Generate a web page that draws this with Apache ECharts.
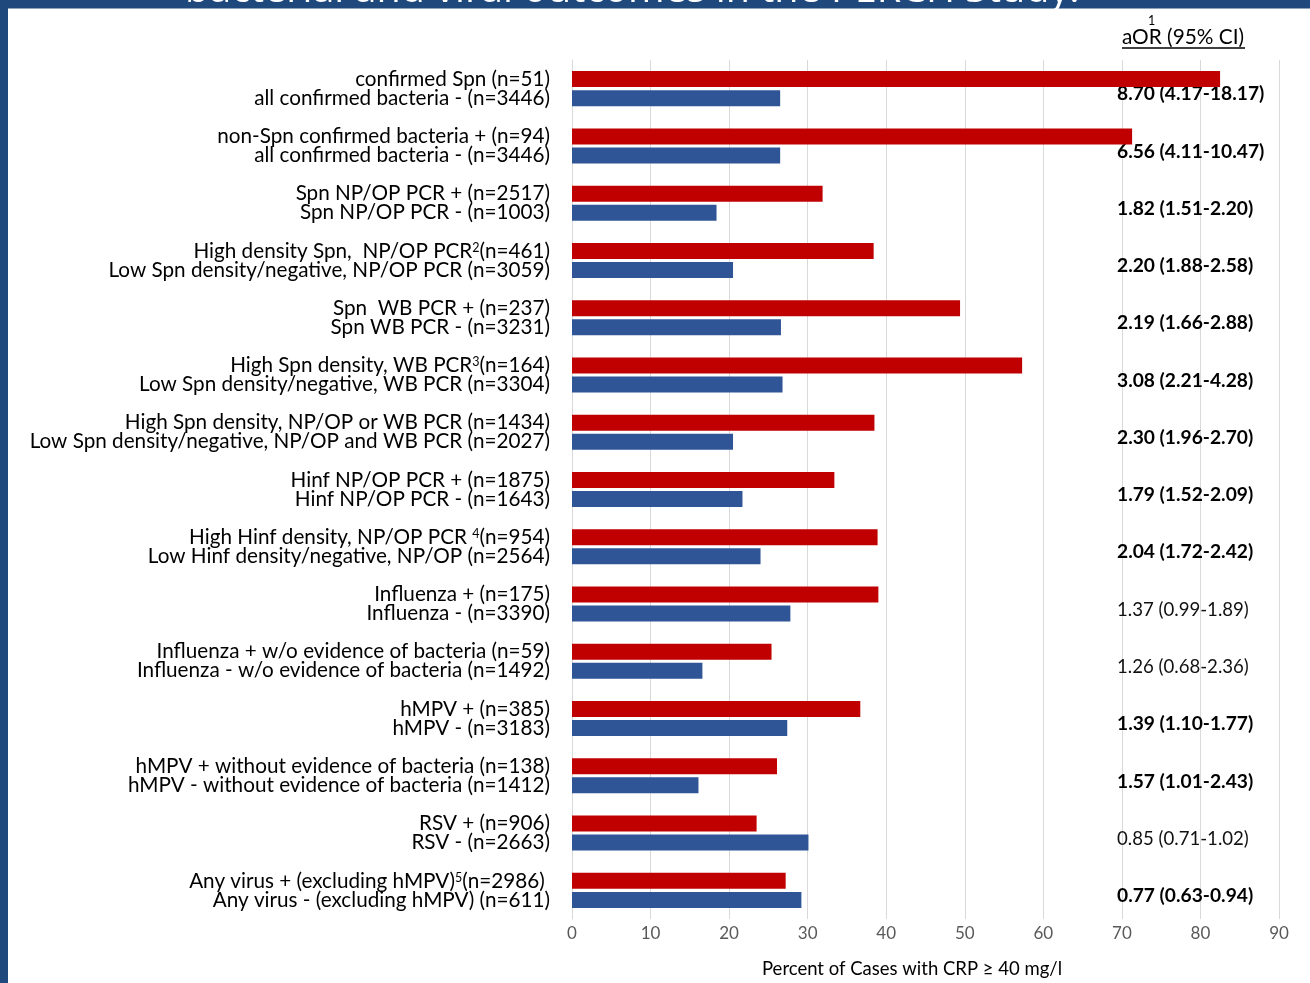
<!DOCTYPE html>
<html>
<head>
<meta charset="utf-8">
<script src="https://cdn.jsdelivr.net/npm/echarts@6/dist/echarts.min.js"></script>
<style>
html,body{margin:0;padding:0;background:#fff;}
#c{width:1310px;height:983px;}
</style>
</head>
<body>
<div id="c"></div>
<script>
// ---- data ----
const posLabels = [
  'confirmed Spn (n=51)',
  'non-Spn confirmed bacteria + (n=94)',
  'Spn NP/OP PCR + (n=2517)',
  'High density Spn,  NP/OP PCR{s|2}(n=461)',
  'Spn  WB PCR + (n=237)',
  'High Spn density, WB PCR{s|3}(n=164)',
  'High Spn density, NP/OP or WB PCR (n=1434)',
  'Hinf NP/OP PCR + (n=1875)',
  'High Hinf density, NP/OP PCR {s|4}(n=954)',
  'Influenza + (n=175)',
  'Influenza + w/o evidence of bacteria (n=59)',
  'hMPV + (n=385)',
  'hMPV + without evidence of bacteria (n=138)',
  'RSV + (n=906)',
  'Any virus + (excluding hMPV){s|5}(n=2986) '
];
const negLabels = [
  'all confirmed bacteria - (n=3446)',
  'all confirmed bacteria - (n=3446)',
  'Spn NP/OP PCR - (n=1003)',
  'Low Spn density/negative, NP/OP PCR (n=3059)',
  'Spn WB PCR - (n=3231)',
  'Low Spn density/negative, WB PCR (n=3304)',
  'Low Spn density/negative, NP/OP and WB PCR (n=2027)',
  'Hinf NP/OP PCR - (n=1643)',
  'Low Hinf density/negative, NP/OP (n=2564)',
  'Influenza - (n=3390)',
  'Influenza - w/o evidence of bacteria (n=1492)',
  'hMPV - (n=3183)',
  'hMPV - without evidence of bacteria (n=1412)',
  'RSV - (n=2663)',
  'Any virus - (excluding hMPV) (n=611)'
];
const positiveValues = [82.5, 71.3, 31.9, 38.4, 49.4, 57.3, 38.5, 33.4, 38.9, 39.0, 25.4, 36.7, 26.1, 23.5, 27.2];
const negativeValues = [26.5, 26.5, 18.4, 20.5, 26.6, 26.8, 20.5, 21.7, 24.0, 27.8, 16.6, 27.4, 16.1, 30.1, 29.2];
const aorText = [
  '8.70 (4.17-18.17)', '6.56 (4.11-10.47)', '1.82 (1.51-2.20)', '2.20 (1.88-2.58)',
  '2.19 (1.66-2.88)', '3.08 (2.21-4.28)', '2.30 (1.96-2.70)', '1.79 (1.52-2.09)',
  '2.04 (1.72-2.42)', '1.37 (0.99-1.89)', '1.26 (0.68-2.36)', '1.39 (1.10-1.77)',
  '1.57 (1.01-2.43)', '0.85 (0.71-1.02)', '0.77 (0.63-0.94)'
];
const aorSignificant = [true, true, true, true, true, true, true, true, true, false, false, true, true, false, true];
const xTicks = { min: 0, max: 90, interval: 10 };
const xAxisTitle = 'Percent of Cases with CRP \u2265 40 mg/l';
const titleText = 'bacterial and viral outcomes in the PERCH Study.';

// ---- chart ----
const FONT = 'Lato, "Open Sans", sans-serif';
const categories = posLabels.map((p, i) => p + '\n' + negLabels[i]);
const chart = echarts.init(document.getElementById('c'), null, { renderer: 'canvas' });
chart.setOption({
  backgroundColor: '#ffffff',
  animation: false,
  textStyle: { fontFamily: FONT },
  grid: { left: 572, right: 31, top: 60, height: 859, containLabel: false, outerBoundsMode: 'none' },
  xAxis: {
    type: 'value', min: xTicks.min, max: xTicks.max, interval: xTicks.interval,
    axisLine: { show: false }, axisTick: { show: false },
    splitLine: { show: true, lineStyle: { color: '#D9D9D9', width: 1 } },
    axisLabel: { color: '#595959', fontSize: 17, margin: 6, fontFamily: FONT },
    name: xAxisTitle, nameLocation: 'middle', nameGap: 41,
    nameTextStyle: { color: '#000', fontSize: 18.5, fontFamily: FONT, padding: [0, 27, 0, 0] }
  },
  yAxis: [{
    type: 'category', inverse: true, data: categories,
    axisLine: { show: true, lineStyle: { color: '#D9D9D9' } },
    axisTick: { show: false },
    axisLabel: {
      color: '#000', fontSize: 20.7, lineHeight: 19, margin: 22, fontFamily: FONT, align: 'right',
      rich: { s: { fontSize: 12.5, verticalAlign: 'top', lineHeight: 19, padding: [0, 0, 4, 0], color: '#000', fontFamily: FONT } }
    }
  }, {
    type: 'category', inverse: true, position: 'right', offset: -162,
    data: aorText.map((t, i) => aorSignificant[i] ? '{b|' + t + '}' : '{n|' + t + '}'),
    axisLine: { show: false }, axisTick: { show: false },
    axisLabel: {
      margin: 0, align: 'left',
      rich: {
        b: { fontSize: 19.2, fontWeight: 'bold', color: '#000', fontFamily: FONT, padding: [11, 0, 0, 0] },
        n: { fontSize: 18.6, color: '#111', fontFamily: FONT, padding: [11, 0, 0, 0] }
      }
    }
  }],
  series: [{
    type: 'bar', name: 'positive', data: positiveValues, barWidth: 16, barGap: '19%',
    itemStyle: { color: '#C00000' }
  }, {
    type: 'bar', name: 'negative', data: negativeValues, barWidth: 16, barGap: '19%',
    itemStyle: { color: '#2F5597' }
  }],
  graphic: [
    { type: 'rect', left: 0, top: 0, shape: { width: 1310, height: 8.5 }, style: { fill: '#1F497D' }, z: 100 },
    { type: 'rect', left: 0, top: 0, shape: { width: 8, height: 983 }, style: { fill: '#1F497D' }, z: 100 },
    { type: 'text', x: 185, y: 11, z: 101,
      style: { text: titleText, fill: '#fff', font: '39.5px "Open Sans", sans-serif', textVerticalAlign: 'bottom' } },
    { type: 'text', x: 1122, y: 37, z: 50,
      style: { text: 'aOR (95% CI)', fill: '#000', font: '20.8px ' + FONT, textVerticalAlign: 'middle' } },
    { type: 'text', x: 1148, y: 21, z: 50,
      style: { text: '1', fill: '#000', font: '12.5px ' + FONT, textVerticalAlign: 'middle' } },
    { type: 'line', z: 50, shape: { x1: 1122, y1: 48, x2: 1245, y2: 48 }, style: { stroke: '#000', lineWidth: 1.5 } }
  ]
});
</script>
</body>
</html>
